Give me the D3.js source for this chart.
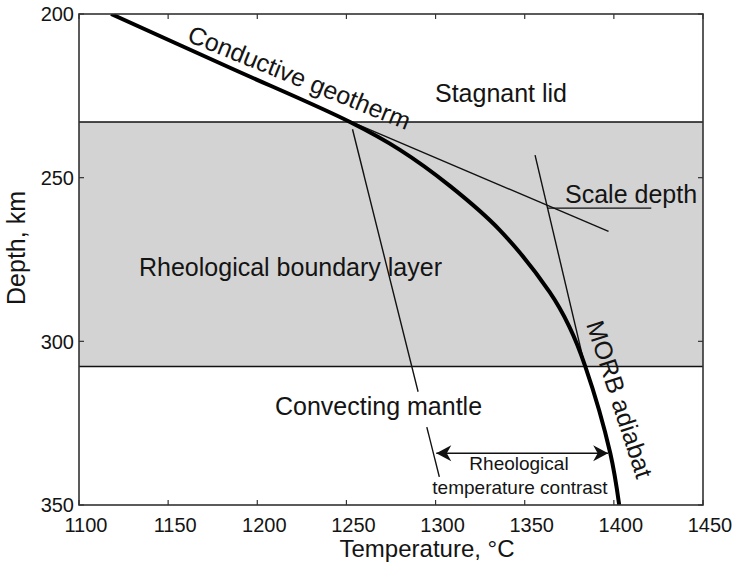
<!DOCTYPE html>
<html>
<head>
<meta charset="utf-8">
<script src="https://cdn.jsdelivr.net/npm/d3@7"></script>
<style>
  html, body { margin: 0; padding: 0; background: #fff; }
  svg text { font-family: "Liberation Sans", Arial, Helvetica, sans-serif; fill: #141414; }
</style>
</head>
<body>
<svg id="chart" width="734" height="564"></svg>
<script>
// ---------------- data ----------------
const xTicks = [1100, 1150, 1200, 1250, 1300, 1350, 1400, 1450];
const yTicks = [200, 250, 300, 350];
const xDomain = [1100, 1450];
const yDomain = [200, 350];

// thick geotherm (conductive part + MORB adiabat)
const geoTemp  = [1118, 1185, 1252, 1280, 1308, 1336, 1364, 1375, 1384, 1398, 1403];
const geoDepth = [200, 216.5, 233, 241.5, 252.5, 266, 285, 295.5, 307.7, 334.2, 350];

// layer boundaries (km)
const lidBase = 233;
const rblBase = 307.7;

// thin construction lines
const tangentTemp = [1240, 1397];
const tangentDepth = [230, 266.4];
const adiabatTanTemp = [1355.8, 1383.8];
const adiabatTanDepth = [243.1, 307.7];
const scaleDepthTemp = [1363, 1421];
const scaleDepthDepth = [259.3, 259.3];
const mantleTemp1 = [1253.4, 1290.2];
const mantleDepth1 = [235.2, 315.4];
const mantleTemp2 = [1295.1, 1302.1];
const mantleDepth2 = [326.2, 341.4];
const contrastTemp = [1300.4, 1396.8];
const contrastDepth = [334.2, 334.2];

// ---------------- layout ----------------
const svg = d3.select("#chart");
const L = 79, R = 703, T = 14, B = 505;
const x = d3.scaleLinear().domain(xDomain).range([L, R]);
const y = d3.scaleLinear().domain(yDomain).range([T, B]);

const defs = svg.append("defs");
defs.append("clipPath").attr("id", "plotclip")
  .append("rect").attr("x", L).attr("y", T).attr("width", R - L).attr("height", B - T);

// arrow marker
defs.append("marker").attr("id", "arrow")
  .attr("viewBox", "-16 -9 17 18").attr("refX", 0).attr("refY", 0)
  .attr("markerWidth", 17).attr("markerHeight", 18)
  .attr("markerUnits", "userSpaceOnUse").attr("orient", "auto-start-reverse")
  .append("path").attr("d", "M0,0 L-15,-8 L-10.5,0 L-15,8 Z").attr("fill", "#111");

// gray rheological boundary layer band
svg.append("rect")
  .attr("x", L).attr("width", R - L)
  .attr("y", y(lidBase)).attr("height", y(rblBase) - y(lidBase))
  .attr("fill", "#d3d3d3");

// band boundary lines
[lidBase, rblBase].forEach(d => {
  svg.append("line").attr("x1", L).attr("x2", R).attr("y1", y(d)).attr("y2", y(d))
    .attr("stroke", "#111").attr("stroke-width", 1.6);
});

const line = d3.line().x(d => x(d[0])).y(d => y(d[1]));
const zipPts = (a, b) => a.map((v, i) => [v, b[i]]);
const plot = svg.append("g").attr("clip-path", "url(#plotclip)");

function thin(a, b) {
  return plot.append("path").datum(zipPts(a, b)).attr("d", line)
    .attr("fill", "none").attr("stroke", "#111").attr("stroke-width", 1.4);
}
thin(tangentTemp, tangentDepth);
thin(adiabatTanTemp, adiabatTanDepth);
thin(scaleDepthTemp, scaleDepthDepth);
thin(mantleTemp1, mantleDepth1);
thin(mantleTemp2, mantleDepth2);

// contrast double arrow
svg.append("path").datum(zipPts(contrastTemp, contrastDepth)).attr("d", line)
  .attr("fill", "none").attr("stroke", "#111").attr("stroke-width", 1.4)
  .attr("marker-start", "url(#arrow)").attr("marker-end", "url(#arrow)");

// thick geotherm
const geoLine = d3.line().x(d => x(d[0])).y(d => y(d[1])).curve(d3.curveCatmullRom.alpha(0.5));
plot.append("path").datum(zipPts(geoTemp, geoDepth)).attr("d", geoLine)
  .attr("fill", "none").attr("stroke", "#000").attr("stroke-width", 4);

// frame
svg.append("rect").attr("x", L).attr("y", T).attr("width", R - L).attr("height", B - T)
  .attr("fill", "none").attr("stroke", "#333").attr("stroke-width", 1.6);

// ticks (inward on all four sides)
const tl = 5;
xTicks.forEach(t => {
  svg.append("line").attr("x1", x(t)).attr("x2", x(t)).attr("y1", B).attr("y2", B - tl).attr("stroke", "#333").attr("stroke-width", 1.2);
  svg.append("line").attr("x1", x(t)).attr("x2", x(t)).attr("y1", T).attr("y2", T + tl).attr("stroke", "#333").attr("stroke-width", 1.2);
});
yTicks.forEach(t => {
  svg.append("line").attr("x1", L).attr("x2", L + tl).attr("y1", y(t)).attr("y2", y(t)).attr("stroke", "#333").attr("stroke-width", 1.2);
  svg.append("line").attr("x1", R).attr("x2", R - tl).attr("y1", y(t)).attr("y2", y(t)).attr("stroke", "#333").attr("stroke-width", 1.2);
});

// tick labels
svg.append("g").selectAll("text").data(xTicks).join("text")
  .attr("x", (d, i) => i === xTicks.length - 1 ? Math.min(x(d) + 7, 711) : x(d) + 7)
  .attr("y", 532).attr("text-anchor", "middle").attr("font-size", 20)
  .text(d => d);
svg.append("g").selectAll("text").data(yTicks).join("text")
  .attr("x", 74).attr("y", d => y(d)).attr("dy", "0.36em")
  .attr("text-anchor", "end").attr("font-size", 20)
  .text(d => d);

// axis titles
svg.append("text").attr("x", 427).attr("y", 557).attr("text-anchor", "middle")
  .attr("font-size", 24).text("Temperature, °C");
svg.append("text").attr("transform", "translate(25,248) rotate(-90)")
  .attr("text-anchor", "middle").attr("font-size", 25).text("Depth, km");

// annotations
const ann = (txt, px, py, size, anchor, rot) => {
  const t = svg.append("text").attr("font-size", size).attr("text-anchor", anchor || "start").text(txt);
  if (rot) t.attr("transform", `translate(${px},${py}) rotate(${rot})`);
  else t.attr("x", px).attr("y", py);
  return t;
};
ann("Stagnant lid", 501, 102, 25, "middle");
ann("Rheological boundary layer", 139, 276, 25);
ann("Convecting mantle", 275, 415, 25);
ann("Scale depth", 565, 203, 25);
ann("Rheological", 519, 470, 19, "middle");
ann("temperature contrast", 520, 494, 19, "middle");
ann("Conductive geotherm", 186, 41, 25, "start", 22);
ann("MORB adiabat", 586, 324, 25, "start", 72);
</script>
</body>
</html>
